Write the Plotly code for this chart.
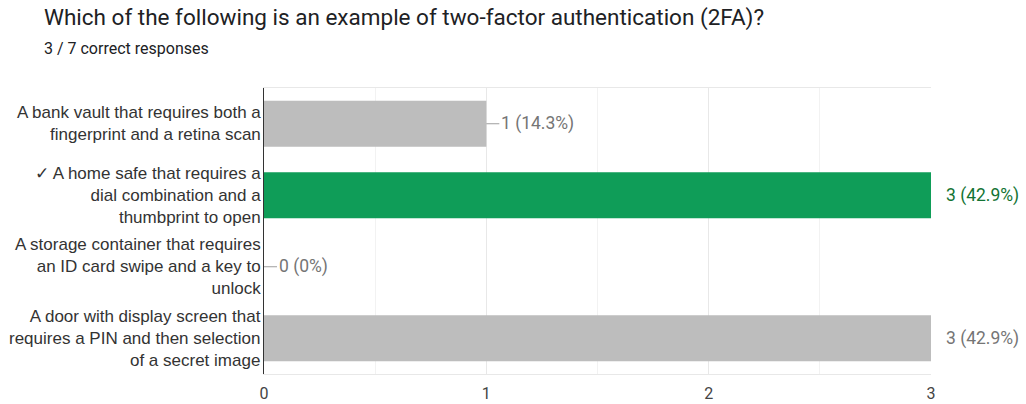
import plotly.graph_objects as go

# Answer options (top to bottom) and response counts
options = [
    "A bank vault that requires both a<br>fingerprint and a retina scan",
    "✓ A home safe that requires a<br>dial combination and a<br>thumbprint to open",
    "A storage container that requires<br>an ID card swipe and a key to<br>unlock",
    "A door with display screen that<br>requires a PIN and then selection<br>of a secret image",
]
counts = [1, 3, 0, 3]
total = 7
correct_index = 1

title_text = "Which of the following is an example of two-factor authentication (2FA)?"
subtitle_text = "3 / 7 correct responses"
x_ticks = [0, 1, 2, 3]

GREY_BAR = "#bdbdbd"
GREEN_BAR = "#0f9d58"
GREY_TEXT = "#757575"
GREEN_TEXT = "#137333"

W, H = 1026, 404
M_L, M_R, M_T, M_B = 264, 95, 88, 30
plot_w = W - M_L - M_R
plot_h = H - M_T - M_B

def paper_x(px):
    return (px - M_L) / plot_w

def paper_y(py):
    return (H - M_B - py) / plot_h

cat_ids = list(range(len(options)))
bar_colors = [GREEN_BAR if i == correct_index else GREY_BAR for i in cat_ids]

fig = go.Figure(
    go.Bar(
        x=counts,
        y=cat_ids,
        orientation="h",
        width=0.64,
        marker=dict(color=bar_colors, line=dict(width=0)),
        hoverinfo="skip",
    )
)

# Category labels, right aligned against the axis
for i, label in zip(cat_ids, options):
    fig.add_annotation(
        x=0, xref="paper", y=i, yref="y",
        text=label, showarrow=False,
        xanchor="right", yanchor="middle", align="right",
        xshift=-1,
        font=dict(family="Liberation Sans, Arial, sans-serif", size=17, color="#333333"),
    )

# Value labels with a short leader line
for i, c in zip(cat_ids, counts):
    pct = c / total * 100
    pct_txt = f"{pct:.1f}".rstrip("0").rstrip(".")
    color = GREEN_TEXT if i == correct_index else GREY_TEXT
    fig.add_annotation(
        x=c, y=i, xref="x", yref="y",
        text=f"{c} ({pct_txt}%)", showarrow=False,
        xanchor="left", yanchor="middle", xshift=13,
        font=dict(family="Roboto, Arial, sans-serif", size=17.5, color=color),
    )
    lead = 13 if c < max(counts) else 3
    fig.add_shape(
        type="line", xref="x", yref="y", xsizemode="pixel",
        xanchor=c, x0=0, x1=lead, y0=i, y1=i,
        line=dict(color="#9e9e9e", width=1),
    )

# Heading and subheading
fig.add_annotation(
    x=paper_x(42), y=paper_y(18), xref="paper", yref="paper",
    text=title_text, showarrow=False, xanchor="left", yanchor="middle",
    font=dict(family="Roboto, Arial, sans-serif", size=22.5, color="#202124"),
)
fig.add_annotation(
    x=paper_x(42), y=paper_y(48), xref="paper", yref="paper",
    text=subtitle_text, showarrow=False, xanchor="left", yanchor="middle",
    font=dict(family="Roboto, Arial, sans-serif", size=16, color="#202124"),
)

fig.update_layout(
    width=W, height=H,
    margin=dict(l=M_L, r=M_R, t=M_T, b=M_B, autoexpand=False),
    paper_bgcolor="white", plot_bgcolor="white",
    showlegend=False,
    xaxis=dict(
        range=[0, 3], tickvals=x_ticks, ticktext=[str(v) for v in x_ticks],
        showgrid=True, gridcolor="#e8e8e8", gridwidth=1,
        minor=dict(dtick=0.5, tick0=0, showgrid=True, gridcolor="#f2f2f2", gridwidth=1),
        showline=True, linecolor="#e8e8e8", linewidth=1, mirror=True,
        zeroline=False, ticks="", automargin=False, ticklabelstandoff=5,
        tickfont=dict(family="Roboto, Arial, sans-serif", size=16, color="#444444"),
        fixedrange=True,
    ),
    yaxis=dict(
        range=[len(options) - 0.5, -0.5],
        showticklabels=False, showgrid=False, zeroline=False,
        showline=True, linecolor="#333333", linewidth=1,
        automargin=False, fixedrange=True,
    ),
)

fig.write_html("out.html")
